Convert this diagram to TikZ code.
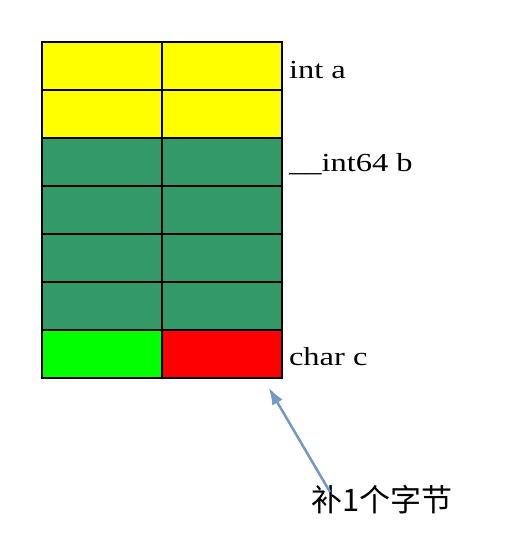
\documentclass[tikz,border=0pt]{standalone}
\usepackage{fontspec}
\setmainfont{Liberation Serif}[FakeStretch=1.25]
\newfontfamily\cjk{Noto Sans CJK SC}
\usetikzlibrary{positioning,arrows.meta}
\definecolor{bytey}{RGB}{255,255,0}
\definecolor{byteb}{RGB}{51,153,102}
\definecolor{bytec}{RGB}{0,255,0}
\definecolor{bytepad}{RGB}{255,0,0}
\definecolor{padarrow}{RGB}{114,153,196}
\begin{document}
\begin{tikzpicture}[x=1pt,y=-1pt,
  cell/.style={draw,line width=1.6pt,minimum width=120pt,minimum height=48pt,inner sep=0pt},
  lbl/.style={inner sep=0pt,font=\fontsize{26}{28}\selectfont},
  padlbl/.style={font=\cjk\fontsize{31}{33}\selectfont,inner sep=0pt}]
\useasboundingbox (0,0) rectangle (532,538);
\foreach \r/\col in {1/bytey,2/bytey,3/byteb,4/byteb,5/byteb,6/byteb}{
  \node[cell,fill=\col] (a\r) at (102,{18+48*\r}) {};
  \node[cell,fill=\col] (b\r) at (222,{18+48*\r}) {};
}
\node[cell,fill=bytec] (a7) at (102,354) {};
\node[cell,fill=bytepad] (b7) at (222,354) {};
\node[lbl] (la) [right=6pt of b1,yshift=-4pt] {int a};
\node[lbl] (lb) [right=6pt of b3,yshift=-2pt] {\_\_int64 b};
\node[lbl] (lc) [right=6pt of b7,yshift=-3pt] {char c};
\node[padlbl] (pad) at (382,500) {补1个字节};
\coordinate (tip) at ([xshift=-14pt,yshift=-9pt]b7.south east);
\draw[-{Latex[length=17pt,width=12pt]},line width=2.5pt,color=padarrow]
  ([xshift=-52pt,yshift=8pt]pad.center) -- (tip);
\end{tikzpicture}
\end{document}
